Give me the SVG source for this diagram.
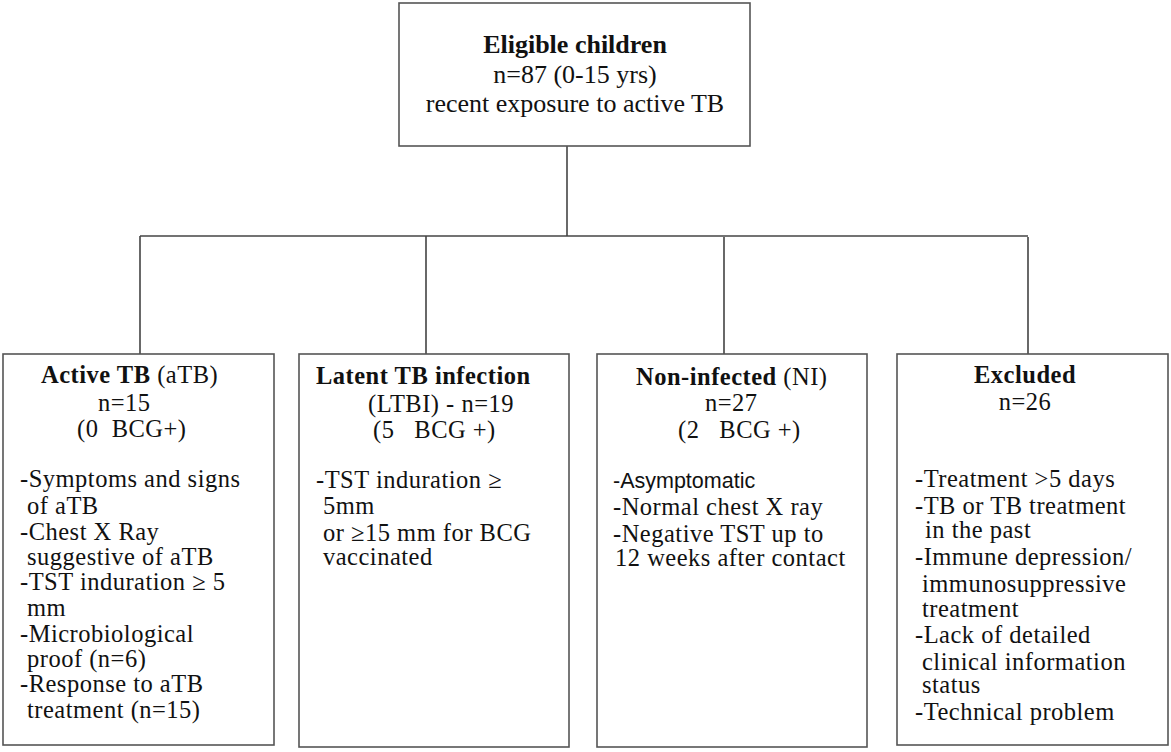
<svg xmlns="http://www.w3.org/2000/svg" width="1171" height="752" viewBox="0 0 1171 752">
<style>
.box{fill:#fff;stroke:#555;stroke-width:1.6}
.ln{fill:none;stroke:#444;stroke-width:1.6}
text{font-family:"Liberation Serif","Times New Roman",serif;font-size:24.5px;letter-spacing:0.5px;fill:#111}
.b{font-weight:bold}
.t{font-size:26px;letter-spacing:0}
.s{font-family:"Liberation Sans",Arial,sans-serif;font-size:21.5px;letter-spacing:0}
</style>
<rect width="1171" height="752" fill="#fff"/>
<g id="connectors">
<path class="ln" d="M567 146V236"/>
<path class="ln" d="M140 236H1028"/>
<path class="ln" d="M140 236V354M426 236V354M724 237V354M1028 237V354"/>
</g>
<g id="eligible">
<rect class="box" x="399" y="3" width="351" height="143"/>
<text class="t b" x="575" y="53" text-anchor="middle">Eligible children</text>
<text class="t" x="575" y="83" text-anchor="middle">n=87 (0-15 yrs)</text>
<text class="t" x="575" y="112" text-anchor="middle">recent exposure to active TB</text>
</g>
<g id="active">
<rect class="box" x="3" y="354" width="271" height="391"/>
<text x="41" y="383"><tspan class="b">Active TB</tspan> (aTB)</text>
<text x="98" y="411">n=15</text>
<text x="77" y="437" xml:space="preserve">(0  BCG+)</text>
<text x="20" y="487">-Symptoms and signs</text>
<text x="27" y="514">of aTB</text>
<text x="20" y="540">-Chest X Ray</text>
<text x="27" y="565">suggestive of aTB</text>
<text x="20" y="590">-TST induration ≥ 5</text>
<text x="27" y="616">mm</text>
<text x="20" y="642">-Microbiological</text>
<text x="27" y="667">proof (n=6)</text>
<text x="20" y="692">-Response to aTB</text>
<text x="27" y="718">treatment (n=15)</text>
</g>
<g id="latent">
<rect class="box" x="299" y="354" width="270" height="393"/>
<text class="b" x="316" y="384">Latent TB infection</text>
<text x="368" y="412">(LTBI) - n=19</text>
<text x="373" y="438" xml:space="preserve">(5   BCG +)</text>
<text x="316" y="488">-TST induration ≥</text>
<text x="323" y="514">5mm</text>
<text x="323" y="541">or ≥15 mm for BCG</text>
<text x="323" y="565">vaccinated</text>
</g>
<g id="noninfected">
<rect class="box" x="597" y="354" width="270" height="393"/>
<text x="636" y="385"><tspan class="b">Non-infected</tspan> (NI)</text>
<text x="705" y="411">n=27</text>
<text x="678" y="438" xml:space="preserve">(2   BCG +)</text>
<text class="s" x="613" y="488">-Asymptomatic</text>
<text x="613" y="515">-Normal chest X ray</text>
<text x="613" y="542">-Negative TST up to</text>
<text x="615" y="566">12 weeks after contact</text>
</g>
<g id="excluded">
<rect class="box" x="897" y="354" width="271" height="391"/>
<text class="b" x="1025" y="383" text-anchor="middle">Excluded</text>
<text x="1025" y="410" text-anchor="middle">n=26</text>
<text x="915" y="487">-Treatment &gt;5 days</text>
<text x="915" y="514">-TB or TB treatment</text>
<text x="925" y="538">in the past</text>
<text x="915" y="565">-Immune depression/</text>
<text x="922" y="592">immunosuppressive</text>
<text x="922" y="617">treatment</text>
<text x="915" y="643">-Lack of detailed</text>
<text x="922" y="670">clinical information</text>
<text x="922" y="693">status</text>
<text x="915" y="720">-Technical problem</text>
</g>
</svg>
